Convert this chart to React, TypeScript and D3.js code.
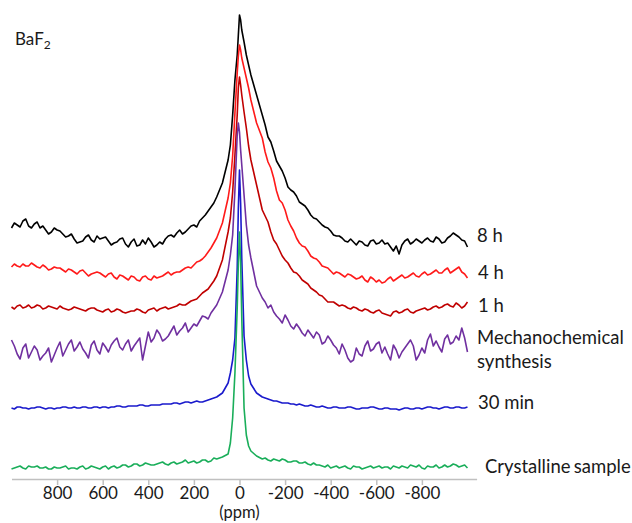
import { useEffect, useRef } from 'react';
import * as d3 from 'd3';

// chemical shift sampling points (ppm)
const ppm = [
  1000, 987.5, 975, 962.5, 950, 937.5, 925, 912.5, 900, 887.5, 875, 862.5, 850, 837.5, 825, 812.5,
  800, 787.5, 775, 762.5, 750, 737.5, 725, 712.5, 700, 687.5, 675, 662.5, 650, 637.5, 625, 612.5,
  600, 587.5, 575, 562.5, 550, 537.5, 525, 512.5, 500, 487.5, 475, 462.5, 450, 437.5, 425, 412.5,
  400, 387.5, 375, 362.5, 350, 337.5, 325, 312.5, 300, 287.5, 275, 262.5, 250, 237.5, 225, 212.5,
  200, 187.5, 175, 162.5, 150, 137.5, 125, 112.5, 100,
  75, 50, 40, 30, 20, 10, 5, 0, -5, -10, -20, -30, -40, -50, -75,
  -100, -112.5, -125, -137.5, -150, -162.5, -175, -187.5, -200, -212.5, -225, -237.5, -250, -262.5,
  -275, -287.5, -300, -312.5, -325, -337.5, -350, -362.5, -375, -387.5, -400, -412.5, -425, -437.5,
  -450, -462.5, -475, -487.5, -500, -512.5, -525, -537.5, -550, -562.5, -575, -587.5, -600, -612.5,
  -625, -637.5, -650, -662.5, -675, -687.5, -700, -712.5, -725, -737.5, -750, -762.5, -775, -787.5,
  -800, -812.5, -825, -837.5, -850, -862.5, -875, -887.5, -900, -912.5, -925, -937.5, -950, -962.5,
  -975, -987.5, -1000,
];

// intensities (arb. units)
const h8 = [
  17, 22, 20, 18, 24, 26, 19, 17, 21, 23, 17, 19, 15, 11, 13, 17, 15, 14, 11, 8,
  9, 11, 6, 2, 3, 4, 8, 10, 5, 3, 9, 6, 7, 8, 4, 0, 2, 3, 6, 7,
  1, -2, 3, 6, -1, 0, 5, 1, 7, 3, -2, 0, 3, 1, 6, 9, 10, 8, 12, 15,
  11, 13, 16, 19, 20, 18, 24, 27, 30, 34, 38, 42, 48,
  62, 85, 100, 130, 165, 190, 210, 230, 225, 215, 203, 190, 180, 170, 150,
  130, 120, 108, 103, 94, 84, 79, 74, 67, 58, 55, 53, 49, 43, 41, 39, 35, 30, 27, 26,
  23, 20, 18, 17, 14, 10, 9, 9, 7, 4, 3, 6, 3, 0, 4, 3, 0, -1, 4, 5,
  1, 2, 5, 1, 2, -2, -6, -1, -9, 0, 4, 6, 1, 3, 6, 4, 2, 5, 7, 4,
  3, 8, 6, 2, 3, 7, 9, 12, 10, 8, 5, 4, -2,
];
const h4 = [
  11, 14, 12, 11, 14, 12, 12, 15, 13, 11, 10, 13, 11, 8, 9, 11, 10, 10, 8, 6,
  9, 8, 6, 4, 7, 8, 5, 2, 4, 5, 6, 5, 3, 1, 4, 5, 1, -1, 3, 2,
  0, -2, 2, 1, -2, -3, 1, 2, -1, -2, 2, 0, 1, 2, 4, 6, 3, 5, 6, 6,
  8, 10, 11, 10, 13, 16, 17, 19, 22, 26, 30, 35, 40,
  55, 80, 95, 122, 165, 205, 222, 233, 228, 220, 210, 200, 190, 178, 155,
  140, 126, 116, 110, 100, 87, 78, 75, 68, 58, 52, 47, 40, 35, 32, 31, 27, 22, 20, 19,
  16, 12, 11, 10, 7, 4, 6, 5, 3, 1, 4, 3, 1, -1, 0, 2, -2, -4, 1, -1,
  -4, -2, -5, -4, -1, 1, -3, -1, 1, 3, 0, 1, 3, 5, 2, 1, 4, 6, 3, 4,
  6, 8, 5, 5, 8, 10, 5, 7, 9, 11, 6, 4, 0,
];
const h1 = [
  3, 1, 4, 5, 2, 3, 5, 2, 3, 5, 4, 1, 2, 4, 3, 2, 1, 4, 2, 1,
  0, 1, 3, 2, 1, 0, -1, 1, 2, 2, 0, -1, -2, 0, 1, -2, -1, 1, 0, -2,
  -3, -2, -1, -1, 1, 0, -2, -3, 0, 1, 2, -1, 1, 2, 3, 1, 2, 3, 4, 6,
  5, 5, 7, 9, 10, 11, 14, 17, 19, 21, 25, 29, 34,
  50, 78, 92, 118, 155, 195, 222, 233, 225, 215, 198, 182, 164, 150, 125,
  100, 94, 88, 78, 70, 66, 60, 54, 50, 47, 42, 38, 37, 34, 30, 28, 26, 22, 20, 18,
  15, 14, 11, 8, 8, 8, 6, 4, 5, 4, 2, 1, 3, 2, 0, -1, 1, 0, -2, -3,
  -1, 0, -3, -4, -5, -6, -2, -1, -3, -2, 0, 1, -2, -3, -1, 0, 1, 2, 0, 1,
  3, 4, 2, 3, 5, 6, 4, 3, 7, 5, 2, 4, 8,
];
const mech = [
  10, 4, -4, -9, 2, 6, -8, -2, 4, 0, -10, -6, -3, 2, -12, -5, 2, 8, -6, 0,
  6, 10, -1, 3, 8, 1, -3, -8, 5, 9, 0, -4, 7, 3, -2, 5, 9, 12, 3, 0,
  6, 10, -1, 4, 8, 12, -10, 4, 18, 8, 12, 20, 16, 9, 11, 14, 19, 24, 15, 19,
  22, 27, 18, 22, 26, 24, 29, 34, 33, 31, 37, 41, 45,
  58, 80, 95, 115, 160, 215, 227, 218, 200, 185, 155, 125, 105, 92, 64,
  52, 48, 42, 45, 38, 34, 31, 27, 35, 30, 24, 21, 26, 22, 17, 14, 20, 16, 12, 18,
  15, 6, 8, 14, 10, 5, 2, -4, 6, 0, -8, -12, -10, 2, -4, -6, 4, 9, -1, 1,
  6, 8, -3, 3, -4, -10, 5, 0, -8, -2, 2, 6, 10, 4, -10, -5, 2, -3, 10, 16,
  4, 9, 3, -2, 11, 15, 6, 8, 14, 10, 22, 12, -2,
];
const min30 = [
  0, -1, 1, 1, 0, 0, -1, 0, 0, 1, 1, 0, -1, 0, 0, -1, 0, 0, 1, 1,
  0, 0, 1, 0, 0, 1, 1, 0, 0, 1, 1, 0, 1, 1, 0, 1, 1, 2, 2, 1,
  1, 2, 2, 2, 2, 3, 3, 2, 2, 3, 3, 3, 3, 4, 4, 4, 4, 5, 5, 4,
  5, 6, 6, 5, 6, 7, 6, 6, 7, 8, 9, 10, 11,
  15, 25, 35, 48, 70, 140, 200, 238, 205, 150, 72, 48, 32, 24, 15,
  11, 10, 9, 8, 7, 7, 6, 5, 5, 5, 4, 4, 3, 4, 3, 2, 2, 3, 2, 1,
  1, 2, 1, 0, 0, 1, 1, 0, 0, 0, 1, 1, 0, -1, -1, 0, 0, 0, 1, 1,
  0, -1, -1, 0, 0, -1, -1, -1, -2, -1, 0, 0, -1, -1, 0, 0, -1, 0, 1, 1,
  0, 0, -1, 0, 1, 1, 0, 0, 1, 1, 0, 0, 1,
];
const cryst = [
  -1, 0, 1, 2, 0, -1, 2, 1, 1, 2, 0, 0, 1, -1, -1, 1, 0, 0, 1, 2,
  -1, 0, 0, -1, 1, 2, -1, 0, 2, 1, 0, -1, 1, 2, -1, 1, 2, 0, 1, 3,
  3, 1, 2, 4, 4, 2, 3, 5, 4, 3, 3, 4, 5, 6, 4, 3, 5, 6, 4, 5,
  6, 8, 5, 6, 7, 5, 6, 8, 8, 6, 7, 10, 9,
  11, 14, 25, 50, 95, 160, 205, 236, 205, 150, 60, 33, 22, 17, 12,
  9, 10, 8, 7, 9, 8, 7, 9, 8, 6, 6, 7, 7, 5, 5, 6, 4, 3, 5, 3,
  3, 2, 1, 3, 0, 1, 2, 0, 1, 2, 0, -1, 2, 1, 1, -1, 0, 1, 2, 0,
  1, 2, 0, 1, 1, -1, 2, 1, 0, 2, 1, 0, 3, 2, 1, 3, 0, -1, 2, 1,
  1, 3, 0, 1, 3, 1, 2, 4, 3, 1, 2, 3, 0,
];

const seriesNames = ['8 h', '4 h', '1 h', 'Mechanochemical synthesis', '30 min', 'Crystalline sample'];
const seriesValues = [h8, h4, h1, mech, min30, cryst];
const seriesOffsets = [234, 201, 169, 129, 71, 11];
const seriesColors = ['#000000', '#ff1a1a', '#c00000', '#7030a0', '#1a1acc', '#1aae5a'];

const tickValues = [800, 600, 400, 200, 0, -200, -400, -600, -800];

export default function App() {
  const axisRef = useRef(null);

  const width = 632;
  const height = 523;
  const font = 'Lato, "Open Sans", sans-serif';

  const x = d3.scaleLinear().domain([1000, -1040]).range([11.5, 476.6]);
  const y = d3.scaleLinear().domain([0, 470]).range([479, 9]);

  // label placement relative to each trace baseline (px)
  const labelDy = [[-3], [1], [2], [-6, 18], [1], [5]];
  const labelX = [477, 478, 478, 477, 478, 485];

  useEffect(() => {
    const g = d3.select(axisRef.current);
    g.selectAll('*').remove();
    g.call(
      d3.axisBottom(x)
        .tickValues(tickValues)
        .tickFormat(d => String(d))
        .tickSizeInner(6)
        .tickSizeOuter(0)
        .tickPadding(2)
    );
    g.select('.domain').attr('stroke', '#c0c0c0').attr('stroke-width', 1.5);
    g.selectAll('.tick line').attr('stroke', '#c0c0c0').attr('stroke-width', 1.5);
    g.selectAll('.tick text')
      .attr('fill', '#1a1a1a')
      .style('font-family', font)
      .style('font-size', '17px');
  }, []);

  return (
    <svg width={width} height={height} style={{ position: 'absolute', left: 0, top: 0, background: '#fff' }}>
      {seriesValues.map((vals, i) => {
        const line = d3.line<number>()
          .x((_, j) => x(ppm[j]))
          .y(v => y(v + seriesOffsets[i]));
        return (
          <path
            key={seriesNames[i]}
            d={line(vals) || ''}
            fill="none"
            stroke={seriesColors[i]}
            strokeWidth={1.6}
            strokeLinejoin="round"
          />
        );
      })}

      {seriesNames.map((name, i) => {
        const words = labelDy[i].length > 1 ? name.split(' ') : [name];
        return words.map((w, k) => (
          <text
            key={name + k}
            x={labelX[i]}
            y={y(seriesOffsets[i]) + labelDy[i][k]}
            fontFamily={font}
            fontSize={18.5}
            wordSpacing={i === 5 ? -1.5 : 0}
            fill="#1a1a1a"
          >
            {w}
          </text>
        ));
      })}

      <text x={15} y={45} fontFamily={font} fontSize={17} fill="#1a1a1a">
        BaF<tspan fontSize={12} dy={4}>2</tspan>
      </text>

      <g ref={axisRef} transform={`translate(0,${y(0)})`} />

      <text x={x(0)} y={518} textAnchor="middle" fontFamily={font} fontSize={16.5} fill="#1a1a1a">
        (ppm)
      </text>
    </svg>
  );
}
